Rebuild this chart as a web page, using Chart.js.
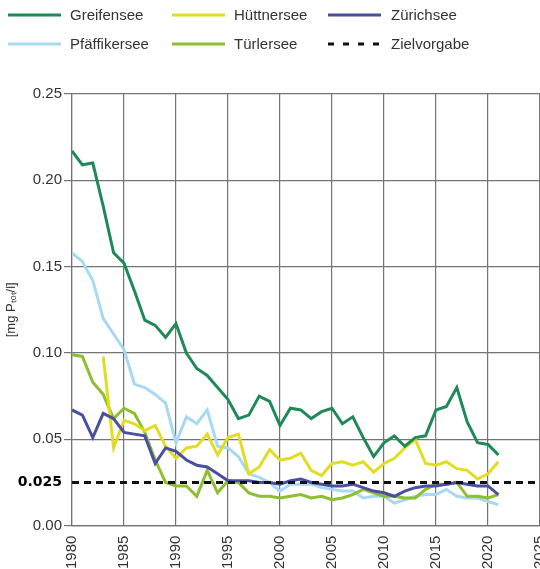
<!DOCTYPE html>
<html>
<head>
<meta charset="utf-8">
<script src="https://cdn.jsdelivr.net/npm/chart.js@4.4.1/dist/chart.umd.min.js"></script>
<style>
  html, body { margin: 0; padding: 0; width: 540px; height: 569px; overflow: hidden; background: #fff; }
  #wrap { position: absolute; left: 0; top: 0; width: 568px; height: 579px; }
  .lg { position: absolute; font-family: "Liberation Sans", Arial, sans-serif; font-size: 15px; color: #333; line-height: 18px; white-space: nowrap; }
  .sw { position: absolute; }
</style>
</head>
<body>
<div id="wrap"><canvas id="c"></canvas></div>
<div id="legend"></div>
<script>
// ---- data ----
const years = [1980,1981,1982,1983,1984,1985,1986,1987,1988,1989,1990,1991,1992,1993,1994,1995,1996,1997,1998,1999,2000,2001,2002,2003,2004,2005,2006,2007,2008,2009,2010,2011,2012,2013,2014,2015,2016,2017,2018,2019,2020,2021];
const greifensee = [0.217,0.209,0.210,0.185,0.158,0.152,0.136,0.119,0.116,0.109,0.117,0.100,0.091,0.087,0.080,0.073,0.062,0.064,0.075,0.072,0.058,0.068,0.067,0.062,0.066,0.068,0.059,0.063,0.051,0.040,0.048,0.052,0.046,0.051,0.052,0.067,0.069,0.080,0.060,0.048,0.047,0.041];
const huettnersee = [null,null,null,0.098,0.045,0.061,0.059,0.055,0.058,0.046,0.039,0.045,0.046,0.053,0.041,0.051,0.053,0.030,0.034,0.044,0.038,0.039,0.042,0.032,0.029,0.036,0.037,0.035,0.037,0.031,0.036,0.039,0.045,0.050,0.036,0.035,0.037,0.033,0.032,0.027,0.030,0.037];
const zuerichsee = [0.067,0.064,0.051,0.065,0.062,0.054,0.053,0.052,0.036,0.045,0.043,0.038,0.035,0.034,0.030,0.026,0.026,0.026,0.025,0.025,0.024,0.026,0.027,0.025,0.024,0.023,0.023,0.024,0.022,0.020,0.019,0.017,0.020,0.022,0.023,0.023,0.024,0.025,0.024,0.023,0.023,0.018];
const pfaeffikersee = [0.158,0.153,0.142,0.120,0.111,0.102,0.082,0.080,0.076,0.071,0.048,0.063,0.059,0.067,0.046,0.045,0.040,0.030,0.028,0.025,0.020,0.024,0.024,0.024,0.022,0.021,0.020,0.020,0.016,0.017,0.017,0.013,0.015,0.017,0.018,0.018,0.021,0.017,0.016,0.016,0.014,0.012];
const tuerlersee = [0.099,0.098,0.083,0.076,0.062,0.068,0.065,0.054,0.038,0.025,0.023,0.023,0.017,0.032,0.019,0.026,0.025,0.019,0.017,0.017,0.016,0.017,0.018,0.016,0.017,0.015,0.016,0.018,0.021,0.019,0.017,0.017,0.016,0.016,0.021,0.024,0.024,0.025,0.017,0.017,0.016,0.018];
const zielYears = [1980, 2025];
const zielValues = [0.025, 0.025];
const xTicks = [1980,1985,1990,1995,2000,2005,2010,2015,2020,2025];
const yTicks = [0, 0.025, 0.05, 0.10, 0.15, 0.20, 0.25];
const yTickLabels = ['0.00','0.025','0.05','0.10','0.15','0.20','0.25'];

const colors = {
  'Greifensee': '#1f8a58',
  'Hüttnersee': '#e2dd22',
  'Zürichsee': '#4b4f9f',
  'Pfäffikersee': '#a7d9f3',
  'Türlersee': '#8dbf2f',
  'Zielvorgabe': '#111111'
};

const pts = (vals, xs) => vals.map((v, i) => ({ x: (xs || years)[i], y: v }));

const FONT = '"Liberation Sans", Arial, sans-serif';
const GRID = '#747474';

const mk = (name, vals, xs, extra) => Object.assign({
  label: name, data: pts(vals, xs), borderColor: colors[name], backgroundColor: colors[name],
  borderWidth: 3, pointRadius: 0, tension: 0, fill: false, spanGaps: false
}, extra || {});

const datasets = [
  mk('Zielvorgabe', zielValues, zielYears, { borderDash: [7, 5], borderWidth: 3 }),
  mk('Greifensee', greifensee),
  mk('Zürichsee', zuerichsee),
  mk('Hüttnersee', huettnersee),
  mk('Türlersee', tuerlersee),
  mk('Pfäffikersee', pfaeffikersee)
];

const chart = new Chart(document.getElementById('c'), {
  type: 'line',
  data: { datasets },
  options: {
    responsive: true, maintainAspectRatio: false, animation: false,
    layout: { padding: { top: 94, left: 0, right: 0, bottom: 0 } },
    plugins: { legend: { display: false }, tooltip: { enabled: false } },
    scales: {
      x: {
        type: 'linear', min: 1980, max: 2025,
        afterBuildTicks: s => { s.ticks = xTicks.map(v => ({ value: v })); },
        ticks: { callback: v => String(v), maxRotation: 90, minRotation: 90, padding: 10, color: '#333', font: { family: FONT, size: 15 } },
        grid: { color: GRID, lineWidth: 1.2, drawTicks: false },
        border: { color: GRID, width: 1.2 }
      },
      y: {
        type: 'linear', min: 0, max: 0.25,
        afterBuildTicks: s => { s.ticks = yTicks.map(v => ({ value: v })); },
        afterFit: s => { s.width = 72; },
        ticks: {
          callback: (v) => yTickLabels[yTicks.indexOf(v)] ?? '',
          padding: 2, color: ctx => ctx.tick && ctx.tick.value === 0.025 ? '#000' : '#333',
          font: ctx => (ctx.tick && ctx.tick.value === 0.025) ? { family: '"DejaVu Sans"', size: 14, weight: 'bold' } : { family: FONT, size: 15 }
        },
        grid: { color: ctx => (ctx.tick && ctx.tick.value === 0.025) ? 'rgba(0,0,0,0)' : GRID, lineWidth: 1.2, tickLength: 8, drawTicks: true },
        border: { color: GRID, width: 1.2 },
        title: { display: true, text: '[mg Pₜₒₜ/l]', color: '#333', font: { family: FONT, size: 13 } }
      }
    }
  }
});

// ---- legend (HTML) ----
const legendPos = [
  { name: 'Greifensee', lx: 8, tx: 70, y: 15 },
  { name: 'Hüttnersee', lx: 172, tx: 234, y: 15 },
  { name: 'Zürichsee', lx: 328, tx: 391, y: 15 },
  { name: 'Pfäffikersee', lx: 8, tx: 70, y: 44 },
  { name: 'Türlersee', lx: 172, tx: 234, y: 44 },
  { name: 'Zielvorgabe', lx: 328, tx: 391, y: 44 }
];
const lg = document.getElementById('legend');
legendPos.forEach(p => {
  const dash = p.name === 'Zielvorgabe';
  const svg = `<svg class="sw" style="left:${p.lx}px;top:${p.y - 3}px" width="54" height="6"><line x1="0" y1="3" x2="53" y2="3" stroke="${colors[p.name]}" stroke-width="3" ${dash ? 'stroke-dasharray="6 9"' : ''}/></svg>`;
  lg.insertAdjacentHTML('beforeend', svg + `<div class="lg" style="left:${p.tx}px;top:${p.y - 9}px">${p.name}</div>`);
});
</script>
</body>
</html>
